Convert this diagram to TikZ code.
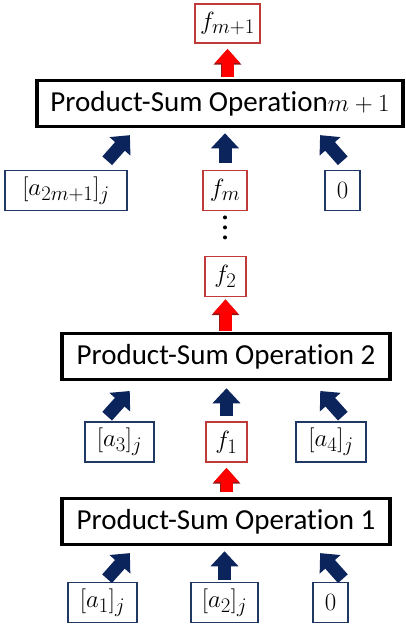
\documentclass[tikz,border=0pt]{standalone}
\usepackage{amsmath}
\usepackage{fontspec}
\setmainfont{Carlito}[Ligatures=NoCommon]
\usepackage{tikz}
\usetikzlibrary{arrows.meta,positioning}

\definecolor{opblue}{RGB}{12,36,92}
\definecolor{boxblue}{RGB}{32,56,100}
\definecolor{boxred}{RGB}{192,58,58}
\definecolor{arrred}{RGB}{255,0,0}
\definecolor{arrdark}{RGB}{150,20,20}

\tikzset{
  opbox/.style={draw=black,line width=3.5pt,inner sep=0pt,minimum height=46pt,
    font=\fontsize{29}{33}\selectfont},
  inbox/.style={draw=boxblue,line width=1.8pt,inner sep=0pt,minimum height=40pt,
    font=\fontsize{32}{36}\selectfont},
  fbox/.style={inbox,draw=boxred},
  inarrow/.style={draw=opblue,line width=13pt,-{Triangle[width=27pt,length=15pt]}},
  outarrow/.style={draw=arrred,line width=12pt,-{Triangle[width=24pt,length=14pt]},
    preaction={draw=arrdark,line width=13.6pt,-{Triangle[width=26.5pt,length=15.6pt]}}},
  vdots/.style={line width=4pt,line cap=round,dash pattern=on 0pt off 10pt}
}

\begin{document}
\begin{tikzpicture}[x=1pt,y=-1pt]
  \useasboundingbox (0,0) rectangle (406,625);

  % operations
  \node[opbox,minimum width=366pt] (op3) at (220,103.5) {Product-Sum Operation$m+1$};
  \node[opbox,minimum width=328pt] (op2) at (226,356.5) {Product-Sum Operation 2};
  \node[opbox,minimum width=328pt] (op1) at (226,521.5) {Product-Sum Operation 1};

  % values
  \node[fbox,minimum width=65pt,minimum height=39pt] (fm1) at (227.5,23.5) {$f_{m+1}$};
  \node[inbox,minimum width=122pt] (a2m1) at (66,190.5) {$[a_{2m+1}]_j$};
  \node[fbox,minimum width=44pt] (fm) at (225,190.5) {$f_m$};
  \node[inbox,minimum width=35pt] (zero3) at (342.5,190.5) {$0$};
  \node[fbox,minimum width=41pt] (f2) at (225.5,276.5) {$f_2$};
  \node[inbox,minimum width=69pt] (a3) at (119.5,442) {$[a_3]_j$};
  \node[fbox,minimum width=41pt] (f1) at (226.5,442) {$f_1$};
  \node[inbox,minimum width=70pt] (a4) at (331,442) {$[a_4]_j$};
  \node[inbox,minimum width=69pt] (a1) at (102.5,602.5) {$[a_1]_j$};
  \node[inbox,minimum width=67pt] (a2) at (224.5,602.5) {$[a_2]_j$};
  \node[inbox,minimum width=35pt] (zero1) at (330.5,602.5) {$0$};

  % results going up
  \draw[outarrow,shorten <=2pt,shorten >=5pt] (op3.north -| fm1) -- (fm1.south);
  \draw[outarrow,shorten <=1pt,shorten >=2pt] (op2.north -| f2) -- (f2.south);
  \draw[outarrow,shorten <=5pt,shorten >=5pt] (op1.north -| f1) -- (f1.south);

  % inputs of operation m+1
  \draw[inarrow,shorten <=11.8pt,shorten >=9.2pt] ([xshift=33.4pt]a2m1.north) -- ([xshift=-84pt]op3.south);
  \draw[inarrow,shorten <=7pt,shorten >=5pt] (fm.north) -- (fm.north |- op3.south);
  \draw[inarrow,shorten <=11.8pt,shorten >=9.2pt] ([xshift=8.1pt]zero3.north) -- ([xshift=94pt]op3.south);

  % inputs of operation 2
  \draw[inarrow,shorten <=6.6pt,shorten >=13.1pt] ([xshift=-16.75pt]a3.north) -- ([xshift=-87.5pt]op2.south);
  \draw[inarrow,shorten <=5pt,shorten >=7pt] (f1.north) -- (f1.north |- op2.south);
  \draw[inarrow,shorten <=6.6pt,shorten >=13.1pt] ([xshift=16.25pt]a4.north) -- ([xshift=85.5pt]op2.south);

  % inputs of operation 1
  \draw[inarrow,shorten <=3.9pt,shorten >=9.2pt] ([xshift=1.95pt]a1.north) -- ([xshift=-90pt]op1.south);
  \draw[inarrow,shorten <=2pt,shorten >=5pt] (a2.north) -- (a2.north |- op1.south);
  \draw[inarrow,shorten <=3.9pt,shorten >=9.2pt] ([xshift=15pt]zero1.north) -- ([xshift=88pt]op1.south);

  % skipped operations
  \draw[vdots,shorten <=6pt,shorten >=9pt] (fm.south) -- (fm.south |- f2.north);

\end{tikzpicture}
\end{document}
